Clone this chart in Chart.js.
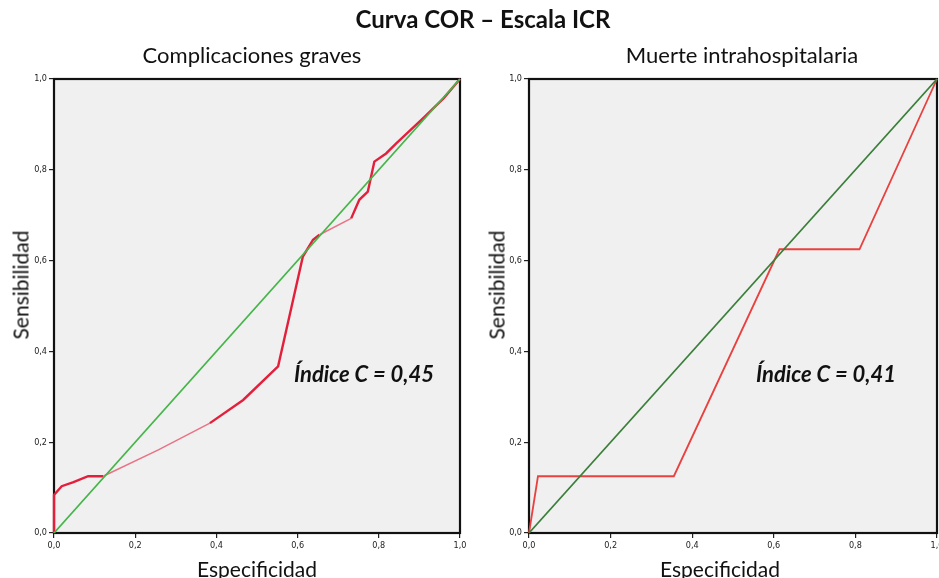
<!DOCTYPE html>
<html>
<head>
<meta charset="utf-8">
<script src="https://cdn.jsdelivr.net/npm/chart.js@4.4.1/dist/chart.umd.min.js"></script>
<style>
  html, body { margin:0; padding:0; background:#fff; }
  body { width:939px; height:578px; position:relative; overflow:hidden; font-family: Lato, "Open Sans", sans-serif; color:#111; }
  .t { position:absolute; white-space:nowrap; line-height:1; z-index:2; }
  canvas { position:absolute; z-index:1; }
</style>
</head>
<body>
<div class="t" id="main" style="left:0;width:966px;text-align:center;top:7px;font-size:24px;font-weight:bold;">Curva COR – Escala ICR</div>
<div class="t" style="left:52px;width:400px;text-align:center;top:44px;font-size:22px;">Complicaciones graves</div>
<div class="t" style="left:542px;width:400px;text-align:center;top:44px;font-size:22px;">Muerte intrahospitalaria</div>
<div class="t" style="left:57px;width:400px;text-align:center;top:558px;font-size:21px;">Especificidad</div>
<div class="t" style="left:520px;width:400px;text-align:center;top:558px;font-size:21px;">Especificidad</div>
<div class="t" style="left:20px;top:285px;font-size:21px;transform:translate(-50%,-50%) rotate(-90deg);">Sensibilidad</div>
<div class="t" style="left:496px;top:285px;font-size:21px;transform:translate(-50%,-50%) rotate(-90deg);">Sensibilidad</div>
<div class="t" style="left:294px;top:363px;font-size:22px;font-weight:bold;font-style:italic;">Índice C = 0,45</div>
<div class="t" style="left:756px;top:363px;font-size:22px;font-weight:bold;font-style:italic;">Índice C = 0,41</div>

<canvas id="c1" width="470" height="578" style="left:0;top:0;width:470px;height:578px;"></canvas>
<canvas id="c2" width="464" height="578" style="left:475px;top:0;width:464px;height:578px;"></canvas>

<script>
// ---- data ----
const tickValues = [0, 0.2, 0.4, 0.6, 0.8, 1.0];
const diagX = [0, 1];
const diagY = [0, 1];

const compX = [0, 0, 0.019, 0.048, 0.084, 0.121, 0.257, 0.384, 0.466, 0.552, 0.589, 0.613, 0.638, 0.654, 0.732, 0.752, 0.773, 0.789, 0.818, 0.843, 0.912, 0.96, 1.0];
const compY = [0, 0.084, 0.103, 0.112, 0.125, 0.125, 0.183, 0.242, 0.293, 0.367, 0.514, 0.609, 0.646, 0.657, 0.693, 0.734, 0.752, 0.818, 0.836, 0.858, 0.916, 0.958, 1.0];

const muerteX = [0, 0.022, 0.355, 0.614, 0.810, 1.0];
const muerteY = [0, 0.125, 0.125, 0.625, 0.625, 1.0];

// ---- helpers ----
function pts(xs, ys) { return xs.map((x, i) => ({ x: x, y: ys[i] })); }
const fmt = v => Number(v).toFixed(1).replace('.', ',');

const panelPlugin = {
  id: 'panel',
  beforeDraw(chart) {
    const a = chart.chartArea, ctx = chart.ctx;
    ctx.save();
    ctx.fillStyle = '#f0f0f0';
    ctx.fillRect(a.left, a.top, a.right - a.left, a.bottom - a.top);
    ctx.restore();
  },
  beforeDatasetsDraw(chart) {
    const a = chart.chartArea, ctx = chart.ctx;
    ctx.save();
    ctx.strokeStyle = '#111';
    ctx.lineWidth = 2.2;
    ctx.strokeRect(a.left, a.top, a.right - a.left, a.bottom - a.top);
    ctx.restore();
  }
};

function scaleOpts(axis) {
  return {
    type: 'linear', min: 0, max: 1,
    afterBuildTicks(s) { s.ticks = tickValues.map(v => ({ value: v })); },
    afterFit(s) {
      if (axis === 'y') { s.width = 54; s.paddingTop = 0; s.paddingBottom = 0; }
      else { s.height = 45; s.paddingLeft = 0; s.paddingRight = 0; }
    },
    grid: { display: true, drawOnChartArea: false, drawTicks: true, tickLength: 5, color: '#222', lineWidth: 1.2 },
    border: { display: false },
    ticks: {
      callback: fmt,
      color: '#222',
      padding: 2,
      maxRotation: 0,
      autoSkip: false,
      font: { family: '"Liberation Sans Narrow", "DejaVu Sans Condensed", sans-serif', size: 9 }
    }
  };
}

function makeChart(id, rocPts, redColor, redWidth, greenColor, segFn, padRight) {
  return new Chart(document.getElementById(id), {
    type: 'scatter',
    data: {
      datasets: [
        { data: rocPts, order: 2, showLine: true, borderColor: redColor, borderWidth: redWidth, pointRadius: 0, tension: 0, clip: 6,
          segment: segFn ? segFn : {} },
        { data: pts(diagX, diagY), order: 1, showLine: true, borderColor: greenColor, borderWidth: 1.8, pointRadius: 0, clip: 6 }
      ]
    },
    options: {
      responsive: false, animation: false, devicePixelRatio: 1,
      layout: { padding: { top: 79, right: padRight, left: 0, bottom: 0 } },
      plugins: { legend: { display: false }, tooltip: { enabled: false } },
      scales: { x: scaleOpts('x'), y: scaleOpts('y') }
    },
    plugins: [panelPlugin]
  });
}

const thin = ctx => {
  const x0 = ctx.p0.parsed.x, x1 = ctx.p1.parsed.x;
  return (x0 >= 0.12 && x1 <= 0.39) || (x0 >= 0.65 && x1 <= 0.735);
};

makeChart('c1', pts(compX, compY), '#e3203c', 2.4, '#45b549', {
  borderColor: c => thin(c) ? '#ea7285' : undefined,
  borderWidth: c => thin(c) ? 1.5 : undefined
}, 10);
makeChart('c2', pts(muerteX, muerteY), '#e8413f', 1.8, '#3a7f3a', null, 2);
</script>
</body>
</html>
